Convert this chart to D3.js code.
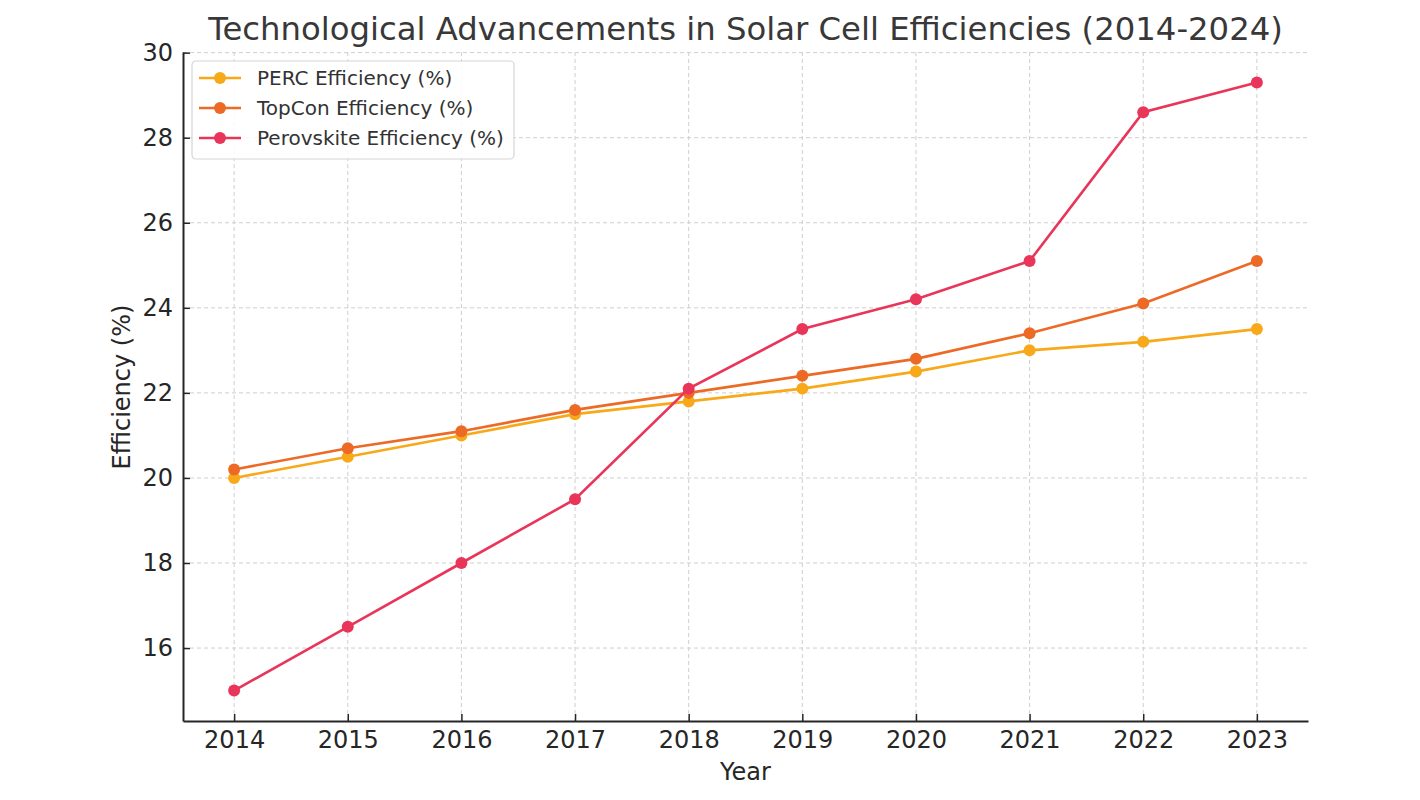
<!DOCTYPE html>
<html>
<head>
<meta charset="utf-8">
<script src="https://cdn.jsdelivr.net/npm/d3@7"></script>
<style>
  body { margin: 0; background: #fff; }
  text { font-family: "DejaVu Sans", sans-serif; fill: #262626; }
</style>
</head>
<body>
<div id="chart"></div>
<script>
// chart data
var years = [2014, 2015, 2016, 2017, 2018, 2019, 2020, 2021, 2022, 2023];
var percEff = [20.0, 20.5, 21.0, 21.5, 21.8, 22.1, 22.5, 23.0, 23.2, 23.5];
var topconEff = [20.2, 20.7, 21.1, 21.6, 22.0, 22.4, 22.8, 23.4, 24.1, 25.1];
var perovskiteEff = [15.0, 16.5, 18.0, 19.5, 22.1, 23.5, 24.2, 25.1, 28.6, 29.3];
var seriesNames = ['PERC Efficiency (%)', 'TopCon Efficiency (%)', 'Perovskite Efficiency (%)'];
var yTicks = [16, 18, 20, 22, 24, 26, 28, 30];

var svgWidth = 1420;
var svgHeight = 800;
var margin = { top: 52, right: 112, bottom: 79, left: 183 };
var chartWidth = svgWidth - margin.left - margin.right;
var chartHeight = svgHeight - margin.top - margin.bottom;

var colors = ['#f7a91a', '#ec6a26', '#e9355a'];
var seriesData = [percEff, topconEff, perovskiteEff];

var svg = d3.select('#chart')
  .append('svg')
  .attr('width', svgWidth)
  .attr('height', svgHeight);

var chartGroup = svg.append('g')
  .attr('transform', `translate(${margin.left}, ${margin.top})`);

// matplotlib style 5% margins
var xScale = d3.scaleLinear()
  .domain([2014 - 0.45, 2023 + 0.45])
  .range([0, chartWidth]);

var yMin = 15.0, yMax = 29.3;
var pad = (yMax - yMin) * 0.05;
var yScale = d3.scaleLinear()
  .domain([yMin - pad, yMax + pad])
  .range([chartHeight, 0]);

// grid
chartGroup.append('g')
  .selectAll('line')
  .data(years)
  .enter()
  .append('line')
  .attr('x1', d => xScale(d))
  .attr('x2', d => xScale(d))
  .attr('y1', 0)
  .attr('y2', chartHeight)
  .attr('stroke', '#cfcfcf')
  .attr('stroke-width', 1)
  .attr('stroke-dasharray', '4,3');

chartGroup.append('g')
  .selectAll('line')
  .data(yTicks)
  .enter()
  .append('line')
  .attr('x1', 0)
  .attr('x2', chartWidth)
  .attr('y1', d => yScale(d))
  .attr('y2', d => yScale(d))
  .attr('stroke', '#cfcfcf')
  .attr('stroke-width', 1)
  .attr('stroke-dasharray', '4,3');

// axes
var xAxis = d3.axisBottom(xScale)
  .tickValues(years)
  .tickFormat(d3.format('d'))
  .tickSizeInner(-7)
  .tickSizeOuter(0)
  .tickPadding(10);

var yAxis = d3.axisLeft(yScale)
  .tickValues(yTicks)
  .tickSizeInner(-7)
  .tickSizeOuter(0)
  .tickPadding(10);

var gx = chartGroup.append('g')
  .attr('transform', `translate(0, ${chartHeight})`)
  .call(xAxis);

var gy = chartGroup.append('g')
  .call(yAxis);

[gx, gy].forEach(function(g) {
  g.select('.domain').attr('stroke', '#262626').attr('stroke-width', 2);
  g.selectAll('.tick line').attr('stroke', '#262626').attr('stroke-width', 1.5);
  g.selectAll('.tick text')
    .style('font-size', '24px')
    .style('font-family', '"DejaVu Sans", sans-serif')
    .attr('fill', '#262626');
});

// lines + markers
var line = d3.line()
  .x((d, i) => xScale(years[i]))
  .y(d => yScale(d));

seriesData.forEach(function(values, s) {
  chartGroup.append('path')
    .datum(values)
    .attr('fill', 'none')
    .attr('stroke', colors[s])
    .attr('stroke-width', 2.6)
    .attr('d', line);

  chartGroup.selectAll()
    .data(values)
    .enter()
    .append('circle')
    .attr('cx', (d, i) => xScale(years[i]))
    .attr('cy', d => yScale(d))
    .attr('r', 6)
    .attr('fill', colors[s]);
});

// labels
svg.append('text')
  .attr('x', margin.left + chartWidth / 2)
  .attr('y', 40)
  .attr('text-anchor', 'middle')
  .style('font-size', '32.3px')
  .style('fill', '#383838')
  .text('Technological Advancements in Solar Cell Efficiencies (2014-2024)');

svg.append('text')
  .attr('x', margin.left + chartWidth / 2)
  .attr('y', 780)
  .attr('text-anchor', 'middle')
  .style('font-size', '24px')
  .text('Year');

svg.append('text')
  .attr('transform', 'translate(130, 387) rotate(-90)')
  .attr('text-anchor', 'middle')
  .style('font-size', '24px')
  .text('Efficiency (%)');

// legend
var legend = chartGroup.append('g')
  .attr('transform', 'translate(9, 9)');

legend.append('rect')
  .attr('width', 322)
  .attr('height', 98)
  .attr('rx', 4)
  .attr('fill', '#fff')
  .attr('fill-opacity', 0.85)
  .attr('stroke', '#d6d6d6')
  .attr('stroke-width', 1.2);

seriesNames.forEach(function(name, i) {
  var y = 17 + i * 30;
  legend.append('line')
    .attr('x1', 7).attr('x2', 49)
    .attr('y1', y).attr('y2', y)
    .attr('stroke', colors[i])
    .attr('stroke-width', 2.6);
  legend.append('circle')
    .attr('cx', 28).attr('cy', y)
    .attr('r', 6)
    .attr('fill', colors[i]);
  legend.append('text')
    .attr('x', 65)
    .attr('y', y)
    .attr('dy', '0.35em')
    .style('font-size', '20px')
    .style('fill', '#333')
    .text(name);
});
</script>
</body>
</html>
